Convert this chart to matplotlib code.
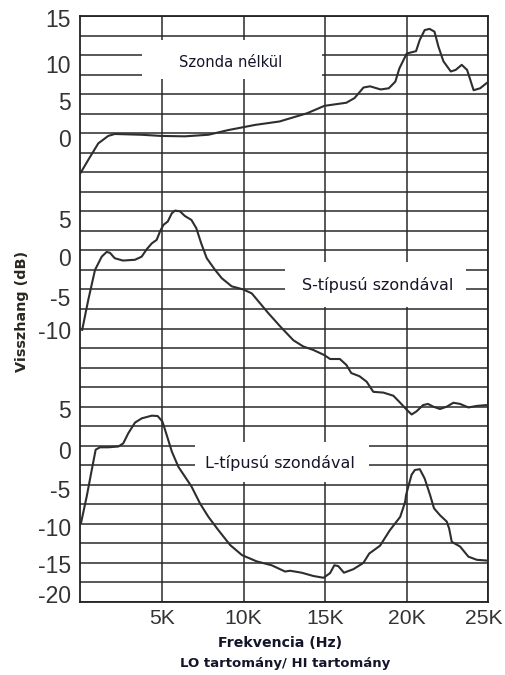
import matplotlib
matplotlib.use("Agg")
import matplotlib.pyplot as plt
from matplotlib.ticker import MultipleLocator
from matplotlib.patches import Rectangle
from matplotlib.transforms import ScaledTranslation
import numpy as np

# ---------------- data (frequency in kHz, level in dB) ----------------
freq_none = [0, 0.48, 1.09, 1.7, 2.1, 3.75, 4.94, 6.4, 7.84, 9.06, 10.7, 12.2, 13.9,
             14.95, 16.3, 16.8, 17.35, 17.75, 18.4, 18.9, 19.3, 19.55, 20.0, 20.57,
             20.8, 21.1, 21.4, 21.7, 21.94, 22.25, 22.7, 23.0, 23.37, 23.7, 24.1,
             24.5, 24.95]
db_none = [-5.1, -3.4, -1.3, -0.35, -0.1, -0.2, -0.35, -0.4, -0.2, 0.4, 1.06, 1.5, 2.56,
           3.5, 3.9, 4.5, 5.85, 6.0, 5.6, 5.75, 6.6, 8.3, 10.2, 10.5,
           11.95, 13.2, 13.35, 13.0, 11.1, 9.2, 7.9, 8.1, 8.75, 8.1, 5.5,
           5.75, 6.5]

freq_s = [0.1, 0.48, 0.89, 1.3, 1.6, 1.8, 2.1, 2.6, 3.34, 3.75, 4.06, 4.37, 4.67, 4.87,
          5.08, 5.35, 5.6, 5.8, 6.1, 6.4, 6.8, 7.1, 7.4, 7.74, 8.25, 8.66, 9.27, 9.98,
          10.5, 11.5, 12.23, 13.05, 13.66, 14.27, 14.95, 15.3, 15.9, 16.3, 16.6, 17.1,
          17.54, 17.95, 18.57, 19.18, 19.6, 20.0, 20.3, 20.6, 21.0, 21.3, 21.63, 22.04,
          22.45, 22.86, 23.27, 23.78, 24.3, 24.9]
db_s = [-10.2, -6.3, -2.5, -0.8, -0.2, -0.3, -1.0, -1.3, -1.2, -0.8, 0.15, 0.9, 1.35, 2.4,
        3.26, 3.7, 4.76, 5.1, 5.0, 4.4, 3.9, 2.84, 0.9, -1.0, -2.5, -3.56, -4.6, -5.0,
        -5.5, -8.0, -9.7, -11.5, -12.3, -12.74, -13.4, -13.9, -13.9, -14.66, -15.7, -16.1,
        -16.8, -18.1, -18.2, -18.6, -19.5, -20.4, -21.0, -20.6, -19.8, -19.65, -20.0, -20.3,
        -20.0, -19.5, -19.65, -20.1, -19.9, -19.8]

freq_l = [0.03, 0.38, 0.69, 0.93, 1.2, 1.7, 2.32, 2.62, 2.93, 3.34, 3.75, 4.37, 4.73, 5.02,
          5.28, 5.6, 6.0, 6.4, 6.8, 7.33, 7.84, 8.45, 9.17, 9.9, 10.8, 11.72, 12.54, 12.85,
          13.56, 14.27, 14.9, 15.3, 15.56, 15.8, 16.15, 16.73, 17.34, 17.7, 18.36, 18.97,
          19.6, 19.9, 19.96, 20.1, 20.3, 20.5, 20.8, 21.1, 21.43, 21.67, 22.04, 22.45,
          22.6, 22.76, 23.27, 23.78, 24.3, 24.94]
db_l = [-9.9, -6.5, -3.1, -0.5, -0.2, -0.2, -0.1, 0.3, 1.6, 2.96, 3.5, 3.85, 3.8, 3.1,
        1.4, -0.75, -2.7, -3.95, -5.2, -7.4, -9.1, -10.8, -12.7, -14.0, -14.8, -15.3, -16.1, -16.0,
        -16.25, -16.67, -16.9, -16.3, -15.3, -15.4, -16.25, -15.8, -15.0, -13.8, -12.8, -10.8,
        -9.1, -7.2, -6.3, -5.2, -3.7, -3.1, -3.0, -4.2, -6.3, -8.0, -8.9, -9.7,
        -10.6, -12.3, -12.9, -14.2, -14.6, -14.7]

series_names = ["Szonda nélkül", "S-típusú szondával", "L-típusú szondával"]

ticks_none = [15, 10, 5, 0]
ticks_s = [5, 0, -5, -10]
ticks_l = [5, 0, -5, -10, -15, -20]
xtick_vals = [5, 10, 15, 20, 25]
xtick_labels = ["5K", "10K", "15K", "20K", "25K"]

# ---------------- layout / style ----------------
offsets = [60, 45, 20]            # vertical stacking of the three panels (dB units)
label_shift = {                   # small visual offsets of tick labels
    0: [-0.25, -1.1, -0.9, -0.6],
    1: [-1.0, -0.9, -1.0, -0.2],
    2: [-0.3, -0.6, -0.5, -0.35, -0.2, 1.0],
}
line_col = "#2e2e2e"
grid_col = "#2a2a2a"
text_col = "#15152a"
tick_col = "#333333"
tick_family = ["Liberation Sans Narrow", "Liberation Sans", "DejaVu Sans"]

W, H = 506, 675
fig = plt.figure(figsize=(W / 100, H / 100), dpi=100)
L, R, T, B = 80.5, 488.3, 16, 602
ax = fig.add_axes([L / W, 1 - B / H, (R - L) / W, (B - T) / H])
ax.set_xlim(0, 25000)
ax.set_ylim(0, 75)

# grid
ax.set_axisbelow(True)
ax.yaxis.set_minor_locator(MultipleLocator(2.5))
ax.set_xticks([v * 1000 for v in xtick_vals])
ax.set_xticklabels(xtick_labels)
ax.grid(axis="x", which="major", color=grid_col, lw=1.1)
ax.grid(axis="y", which="minor", color=grid_col, lw=1.1)
ax.grid(axis="y", which="major", visible=False)

# y tick labels per panel
ypos, ylab = [], []
for i, tks in enumerate([ticks_none, ticks_s, ticks_l]):
    for t, s in zip(tks, label_shift[i]):
        ypos.append(offsets[i] + t + s)
        ylab.append(str(t))
ax.set_yticks(ypos)
ax.set_yticklabels(ylab)

ax.tick_params(axis="both", which="both", length=0)
ax.tick_params(axis="y", pad=7, labelsize=16.5, labelcolor=tick_col)
ax.tick_params(axis="x", pad=5, labelsize=15.2, labelcolor=tick_col)
for lbl in ax.get_xticklabels() + ax.get_yticklabels():
    lbl.set_fontfamily(tick_family)
# last x label sits slightly left of its grid line, as in the original
last = ax.get_xticklabels()[-1]
last.set_transform(last.get_transform() + ScaledTranslation(-4 / 100, 0, fig.dpi_scale_trans))

for sp in ax.spines.values():
    sp.set_color("#222222")
    sp.set_linewidth(1.3)

# white label boxes (hide the grid behind the panel titles)
boxes = [(3770, 14800, 67.0, 71.9), (12540, 23640, 37.8, 43.5), (7020, 17690, 15.4, 20.5)]
for x0, x1, y0, y1 in boxes:
    ax.add_patch(Rectangle((x0, y0), x1 - x0, y1 - y0, facecolor="white",
                           edgecolor="none", zorder=1.5))

title_pos = [(9210, 69.0, 10.6), (18200, 40.6, 11.5), (12230, 17.8, 11.5)]
for name, (tx, ty, fs) in zip(series_names, title_pos):
    ax.text(tx, ty, name, ha="center", va="center", fontsize=fs, color=text_col,
            family="DejaVu Sans", zorder=2)

# curves
for fr, db, off in [(freq_none, db_none, offsets[0]),
                    (freq_s, db_s, offsets[1]),
                    (freq_l, db_l, offsets[2])]:
    ax.plot(np.array(fr) * 1000, np.array(db) + off, color=line_col, lw=1.5,
            zorder=3, solid_joinstyle="round", solid_capstyle="round")

# axis titles
fig.text(280 / W, 1 - 643 / H, "Frekvencia (Hz)", ha="center", va="center",
         fontsize=10.2, fontweight="bold", color=text_col, family="DejaVu Sans")
fig.text(285 / W, 1 - 663 / H, "LO tartomány/ HI tartomány", ha="center", va="center",
         fontsize=9.5, fontweight="bold", color=text_col, family="DejaVu Sans")
fig.text(21.7 / W, 1 - 311 / H, "Visszhang (dB)", ha="center", va="center",
         rotation=90, fontsize=10.4, fontweight="bold", color="#2a2620",
         family="DejaVu Sans")

fig.savefig("out.png", dpi=100, facecolor="white")
